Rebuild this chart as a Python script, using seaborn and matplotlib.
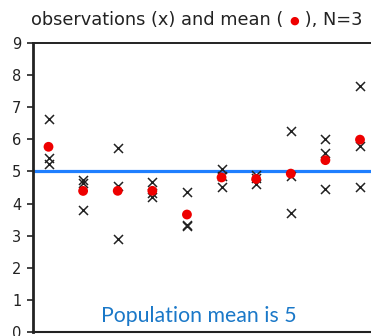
import numpy as np
import pandas as pd
import matplotlib
matplotlib.use("Agg")
import matplotlib.pyplot as plt
import seaborn as sns

# ---- data ----
samples = [1, 2, 3, 4, 5, 6, 7, 8, 9, 10]
obs_a = [6.65, 4.74, 5.73, 4.67, 4.35, 5.07, 4.88, 6.25, 6.02, 7.66]
obs_b = [5.42, 4.64, 4.56, 4.32, 3.32, 4.85, 4.80, 4.85, 5.58, 5.81]
obs_c = [5.24, 3.80, 2.90, 4.20, 3.30, 4.52, 4.62, 3.70, 4.46, 4.51]
pop_mean = 5
y_ticks = [0, 1, 2, 3, 4, 5, 6, 7, 8, 9]
title_parts = ["observations (x) and mean ( ", "\u25cf", " ), N=3"]
note_text = "Population mean is 5"

obs = pd.DataFrame({
    "sample": samples * 3,
    "value": obs_a + obs_b + obs_c,
})
means = pd.DataFrame({
    "sample": samples,
    "mean": [np.mean(v) for v in zip(obs_a, obs_b, obs_c)],
})

sns.set_style("ticks")
plt.rcParams["font.family"] = ["DejaVu Sans"]

W, H = 371, 336
fig = plt.figure(figsize=(W / 100, H / 100), dpi=100)
left_px, top_px, bottom_px = 33, 43.3, 331.7
ax = fig.add_axes([left_px / W, 1 - bottom_px / H, 1 - left_px / W, (bottom_px - top_px) / H])

ax.axhline(pop_mean, color="#1f7fff", lw=2.3, zorder=1)
sns.scatterplot(data=obs, x="sample", y="value", marker="x", s=42,
                color="#222222", linewidth=1.1, ax=ax, zorder=3)
sns.scatterplot(data=means, x="sample", y="mean", marker="o", s=50,
                color="#ee0000", edgecolor="none", ax=ax, zorder=4)

spacing = 34.6
x0 = 48.5
ax.set_xlim(1 - (x0 - left_px) / spacing, 10 + (W - 360) / spacing)
ax.set_ylim(0, 9)
ax.set_yticks(y_ticks)
ax.set_xticks([])
ax.set_xlabel("")
ax.set_ylabel("")
ax.tick_params(axis="y", length=4, width=1.2, pad=4.5, labelsize=10.5,
               color="#222222", labelcolor="#222222")
ax.spines["left"].set_linewidth(2)
ax.spines["top"].set_visible(True)
ax.spines["top"].set_linewidth(1.4)
ax.spines["bottom"].set_linewidth(1.5)
ax.spines["right"].set_visible(False)
for s in ax.spines.values():
    s.set_color("#222222")

# title in three pieces (red dot in the middle)
t1 = fig.text(31 / W, 1 - 25 / H, title_parts[0], fontsize=12.8, color="#222222",
              ha="left", va="baseline")
t2 = ax.annotate(title_parts[1], xy=(1, 0.45), xycoords=t1, fontsize=8,
                 color="#ee0000", ha="left", va="center", annotation_clip=False)
t3 = ax.annotate(title_parts[2], xy=(1, 0), xycoords=(t2, t1), fontsize=12.8,
                 color="#222222", ha="left", va="bottom", annotation_clip=False)

fig.text(199 / W, 1 - 322 / H, note_text, fontsize=15.3, color="#1a78c8",
         family=["Lato", "DejaVu Sans"], ha="center", va="baseline")

fig.savefig("out.png", dpi=100)
